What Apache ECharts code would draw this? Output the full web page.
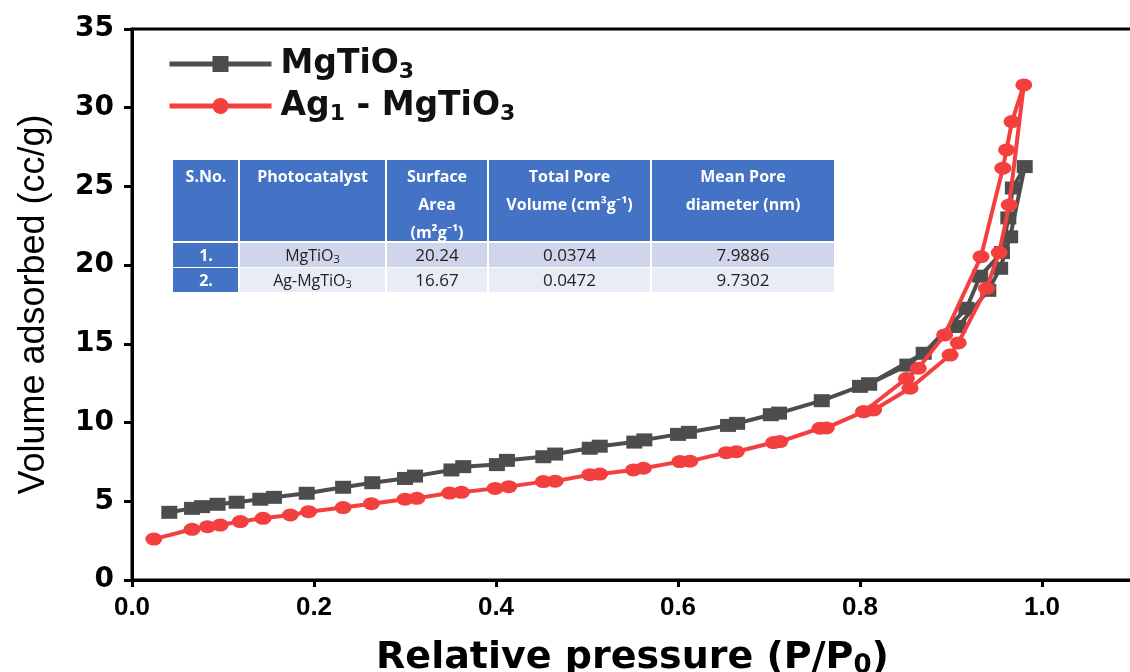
<!DOCTYPE html>
<html>
<head>
<meta charset="utf-8">
<script src="https://cdn.jsdelivr.net/npm/echarts@6/dist/echarts.min.js"></script>
<style>
html,body{margin:0;padding:0;background:#fff;overflow:hidden;width:1130px;height:672px;}
#chart{width:1130px;height:672px;}
</style>
</head>
<body>
<div id="chart"></div>
<script>
// ---- Data ----
const seriesNames = ['MgTiO3', 'Ag1 - MgTiO3'];

// MgTiO3 adsorption branch (ascending P/P0)
const mgAdsX = [0.041,0.066,0.077,0.094,0.115,0.141,0.156,0.192,0.232,0.264,0.300,0.311,0.351,0.364,0.401,0.412,0.452,0.465,0.503,0.514,0.552,0.563,0.600,0.612,0.655,0.665,0.702,0.711,0.758,0.800,0.810,0.852,0.908,0.941,0.954,0.965,0.981];
const mgAdsY = [4.30,4.55,4.66,4.81,4.94,5.13,5.25,5.51,5.89,6.18,6.45,6.60,6.99,7.20,7.33,7.60,7.83,8.00,8.37,8.50,8.76,8.90,9.25,9.38,9.82,9.95,10.50,10.60,11.39,12.30,12.45,13.65,16.10,18.40,19.80,21.80,26.26];
// MgTiO3 desorption branch (descending P/P0)
const mgDesX = [0.968,0.963,0.956,0.932,0.917,0.870,0.810];
const mgDesY = [24.90,23.00,20.80,19.30,17.26,14.40,12.45];

// Ag1 - MgTiO3 adsorption branch
const agAdsX = [0.024,0.066,0.083,0.097,0.119,0.144,0.174,0.194,0.232,0.263,0.300,0.313,0.349,0.362,0.399,0.414,0.452,0.465,0.503,0.514,0.551,0.562,0.602,0.613,0.653,0.664,0.705,0.712,0.756,0.763,0.804,0.815,0.855,0.899,0.908,0.939,0.953,0.964,0.980];
const agAdsY = [2.60,3.22,3.39,3.49,3.71,3.92,4.13,4.34,4.60,4.85,5.13,5.19,5.52,5.57,5.82,5.93,6.25,6.28,6.69,6.73,6.99,7.10,7.52,7.55,8.09,8.15,8.73,8.79,9.64,9.66,10.69,10.80,12.18,14.29,15.06,18.53,20.80,23.82,31.45];
// Ag1 - MgTiO3 desorption branch
const agDesX = [0.967,0.961,0.957,0.933,0.893,0.864,0.851,0.804];
const agDesY = [29.12,27.32,26.16,20.54,15.57,13.45,12.80,10.69];

const xTicks = [0.0,0.2,0.4,0.6,0.8,1.0];
const yTicks = [0,5,10,15,20,25,30,35];

// inset table
const tableHeader = [['S.No.'], ['Photocatalyst'], ['Surface','Area','(m²g⁻¹)'], ['Total Pore','Volume (cm³g⁻¹)'], ['Mean Pore','diameter (nm)']];
const tableNo = ['1.', '2.'];
const tableCatalyst = [['MgTiO','3'], ['Ag-MgTiO','3']];
const tableArea = ['20.24', '16.67'];
const tableVolume = ['0.0374', '0.0472'];
const tableDiameter = ['7.9886', '9.7302'];

// ---- Build ----
function pairs(xs, ys){ return xs.map((x,i)=>[x, ys[i]]); }
const mgData = pairs(mgAdsX, mgAdsY).concat(pairs(mgDesX, mgDesY));
const agData = pairs(agAdsX, agAdsY).concat(pairs(agDesX, agDesY));

const GRAY = '#4d4d4d', RED = '#f43f3f';
const BLUE = '#4472c4', ROW1 = '#cfd5ea', ROW2 = '#e9ebf5';

// table graphics
const colX = [173, 239, 386, 488, 651, 835];
const headTop = 160, headBot = 241, r1Top = 243, r1Bot = 267, r2Top = 268, r2Bot = 292;
const g = [];
const hdrFont = 'bold 16px "Open Sans", Lato, sans-serif';
for (let c = 0; c < 5; c++) {
  const x0 = colX[c] + (c ? 1 : 0), x1 = colX[c+1] - 1;
  g.push({type:'rect', shape:{x:x0, y:headTop, width:x1-x0, height:headBot-headTop}, style:{fill:BLUE}});
  g.push({type:'rect', shape:{x:x0, y:r1Top, width:x1-x0, height:r1Bot-r1Top}, style:{fill: c===0 ? BLUE : ROW1}});
  g.push({type:'rect', shape:{x:x0, y:r2Top, width:x1-x0, height:r2Bot-r2Top}, style:{fill: c===0 ? BLUE : ROW2}});
  const cx = (colX[c] + colX[c+1]) / 2;
  tableHeader[c].forEach((t, k) => {
    g.push({type:'text', x:cx, y:177 + 28*k, style:{text:t, font:hdrFont, fill:'#fff', align:'center', verticalAlign:'middle'}});
  });
}
const rowY = [256, 281];
const cellFont = '17px "Open Sans", Lato, sans-serif';
for (let r = 0; r < 2; r++) {
  const cxs = colX.slice(0,5).map((x,i)=> (x + colX[i+1])/2);
  g.push({type:'text', x:cxs[0], y:rowY[r], style:{text:tableNo[r], font:'bold 16px "Open Sans", sans-serif', fill:'#fff', align:'center', verticalAlign:'middle'}});
  g.push({type:'text', x:cxs[1], y:rowY[r], style:{
    text:'{a|' + tableCatalyst[r][0] + '}{s|' + tableCatalyst[r][1] + '}',
    align:'center', verticalAlign:'middle',
    rich:{a:{fontFamily:'Open Sans', fontSize:16, fill:'#222', lineHeight:20},
          s:{fontFamily:'Open Sans', fontSize:11, fill:'#222', padding:[8,0,0,0], lineHeight:20}}}});
  g.push({type:'text', x:cxs[2], y:rowY[r], style:{text:tableArea[r], font:cellFont, fill:'#222', align:'center', verticalAlign:'middle'}});
  g.push({type:'text', x:cxs[3], y:rowY[r], style:{text:tableVolume[r], font:cellFont, fill:'#222', align:'center', verticalAlign:'middle'}});
  g.push({type:'text', x:cxs[4], y:rowY[r], style:{text:tableDiameter[r], font:cellFont, fill:'#222', align:'center', verticalAlign:'middle'}});
}

const chart = echarts.init(document.getElementById('chart'), null, {renderer:'canvas'});
const legendRich = {
  a:{fontFamily:'DejaVu Sans, sans-serif', fontWeight:'bold', fontSize:33, color:'#111', lineHeight:40},
  s:{fontFamily:'DejaVu Sans, sans-serif', fontWeight:'bold', fontSize:22, color:'#111', lineHeight:40, padding:[16,0,0,0]}
};
chart.setOption({
  animation:false,
  backgroundColor:'#fff',
  grid:{left:132, top:29, width:1001, height:551, show:true, borderColor:'#000', borderWidth:3,
        containLabel:false, outerBoundsMode:'none'},
  legend:{
    orient:'vertical', left:162, top:40, itemWidth:102, itemHeight:20, itemGap:4,
    data:seriesNames,
    lineStyle:{width:5},
    formatter:function(n){
      if (n === 'MgTiO3') return '{a|MgTiO}{s|3}';
      return '{a|Ag}{s|1}{a| - MgTiO}{s|3}';
    },
    textStyle:{rich:legendRich, padding:[0,0,0,4]}
  },
  xAxis:{
    type:'value', min:0, max:1.1, interval:0.2,
    name:'{a|Relative pressure (P/P}{s|0}{a|)}', nameLocation:'middle', nameGap:56,
    nameTextStyle:{rich:{
      a:{fontFamily:'DejaVu Sans, sans-serif', fontWeight:'bold', fontSize:38, color:'#000', lineHeight:44},
      s:{fontFamily:'DejaVu Sans, sans-serif', fontWeight:'bold', fontSize:26, color:'#000', lineHeight:44, padding:[16,0,0,0]}
    }},
    axisLine:{lineStyle:{color:'#000', width:3}},
    axisTick:{length:7, lineStyle:{color:'#000', width:3}},
    axisLabel:{margin:15, color:'#000', fontFamily:'Liberation Sans, Arial, sans-serif', fontWeight:'bold', fontSize:26,
      showMaxLabel:false,
      formatter:function(v){ return xTicks.some(t=>Math.abs(t-v)<1e-6) ? v.toFixed(1) : ''; }},
    splitLine:{show:false}
  },
  yAxis:{
    type:'value', min:0, max:35, interval:5,
    name:'Volume adsorbed (cc/g)', nameLocation:'middle', nameGap:80,
    nameTextStyle:{fontFamily:'Liberation Sans Narrow, Liberation Sans, Arial, sans-serif', fontSize:36, color:'#000'},
    axisLine:{lineStyle:{color:'#000', width:3}},
    axisTick:{length:8, lineStyle:{color:'#000', width:3}},
    axisLabel:{margin:18, color:'#000', fontFamily:'DejaVu Sans, sans-serif', fontWeight:'bold', fontSize:28,
      formatter:function(v){ return yTicks.indexOf(v) >= 0 ? String(v) : ''; }},
    splitLine:{show:false}
  },
  series:[
    {name:seriesNames[0], type:'line', data:mgData, symbol:'rect', symbolSize:[16,13],
     lineStyle:{color:GRAY, width:4}, itemStyle:{color:GRAY}, z:2},
    {name:seriesNames[1], type:'line', data:agData, symbol:'circle', symbolSize:[17,13],
     lineStyle:{color:RED, width:4}, itemStyle:{color:RED}, z:3}
  ],
  graphic:g
});
</script>
</body>
</html>
